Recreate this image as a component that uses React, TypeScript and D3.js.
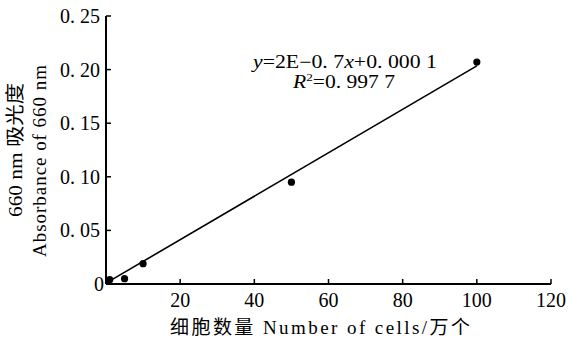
import React from "react";
import * as d3 from "d3";

const cellCounts = [1, 5, 10, 50, 100];
const absorbance = [0.004, 0.005, 0.019, 0.095, 0.207];
const fitX = [0, 100];
const fitY = [0.0008, 0.2035];
const xTicks = [20, 40, 60, 80, 100, 120];
const yTicks = [0, 0.05, 0.1, 0.15, 0.2, 0.25];
const yTickLabels = ["0", "0. 05", "0. 10", "0. 15", "0. 20", "0. 25"];
const xTitleCn1 = "细胞数量";
const xTitleEn = " Number of cells/";
const xTitleCn2 = "万个";
const yTitle1En = "660 nm ";
const yTitle1Cn = "吸光度";
const yTitle2 = "Absorbance of 660 nm";

export default function App() {
  const W = 568, H = 340;
  const x = d3.scaleLinear().domain([0, 120]).range([106, 551]);
  const y = d3.scaleLinear().domain([0, 0.25]).range([284, 16]);
  const line = d3.line<number>().x((d) => x(fitX[d])).y((d) => y(fitY[d]));
  const serif = "'Liberation Serif', 'Times New Roman', serif";
  const cjk = "'Noto Sans CJK SC', sans-serif";
  return (
    <svg width={W} height={H} style={{ position: "fixed", left: 0, top: 0, background: "#fff" }}>
      <rect width={W} height={H} fill="#fff" />
      {/* axes */}
      <line x1={x(0)} x2={x(120)} y1={y(0)} y2={y(0)} stroke="#000" strokeWidth={2} />
      <line x1={x(0)} x2={x(0)} y1={y(0)} y2={y(0.25)} stroke="#000" strokeWidth={2} />
      {xTicks.map((t) => (
        <g key={"xt" + t}>
          <line x1={x(t)} x2={x(t)} y1={y(0)} y2={y(0) - 5} stroke="#000" strokeWidth={1.5} />
          <text x={x(t)} y={307} textAnchor="middle" fontFamily={serif} fontSize={20} fill="#000">
            {t}
          </text>
        </g>
      ))}
      {yTicks.map((t, i) => (
        <g key={"yt" + i}>
          <line x1={x(0)} x2={x(0) + 5} y1={y(t)} y2={y(t)} stroke="#000" strokeWidth={1.5} />
          <text x={i === 0 ? 104 : 100} y={y(t) + 7} textAnchor="end" fontFamily={serif} fontSize={20} fill="#000">
            {yTickLabels[i]}
          </text>
        </g>
      ))}
      {/* fit line */}
      <path d={line([0, 1]) || ""} fill="none" stroke="#000" strokeWidth={1.6} />
      {cellCounts.map((c, i) => (
        <circle key={"p" + i} cx={x(c)} cy={y(absorbance[i])} r={3.6} fill="#000" />
      ))}
      {/* equation */}
      <text x={345} y={68} textAnchor="middle" fontFamily={serif} fontSize={18} fill="#000" textLength={184} lengthAdjust="spacingAndGlyphs">
        <tspan fontStyle="italic">y</tspan>=2E−0. 7<tspan fontStyle="italic">x</tspan>+0. 000 1
      </text>
      <text x={344} y={88} textAnchor="middle" fontFamily={serif} fontSize={18} fill="#000" textLength={102} lengthAdjust="spacingAndGlyphs">
        <tspan fontStyle="italic">R</tspan>
        <tspan fontSize={11} dy={-7}>2</tspan>
        <tspan dy={7}>=0. 997 7</tspan>
      </text>
      {/* axis titles */}
      <text x={320} y={334} textAnchor="middle" fontFamily={serif} fontSize={19} fill="#000" textLength={300} lengthAdjust="spacing">
        <tspan fontFamily={cjk}>{xTitleCn1}</tspan>
        <tspan>{xTitleEn}</tspan>
        <tspan fontFamily={cjk}>{xTitleCn2}</tspan>
      </text>
      <text transform="translate(22,150) rotate(-90)" textAnchor="middle" fontFamily={serif} fontSize={19} fill="#000" textLength={134} lengthAdjust="spacingAndGlyphs">
        <tspan>{yTitle1En}</tspan>
        <tspan fontFamily={cjk}>{yTitle1Cn}</tspan>
      </text>
      <text transform="translate(46,161) rotate(-90)" textAnchor="middle" fontFamily={serif} fontSize={19} fill="#000" textLength={192} lengthAdjust="spacing">
        {yTitle2}
      </text>
    </svg>
  );
}
